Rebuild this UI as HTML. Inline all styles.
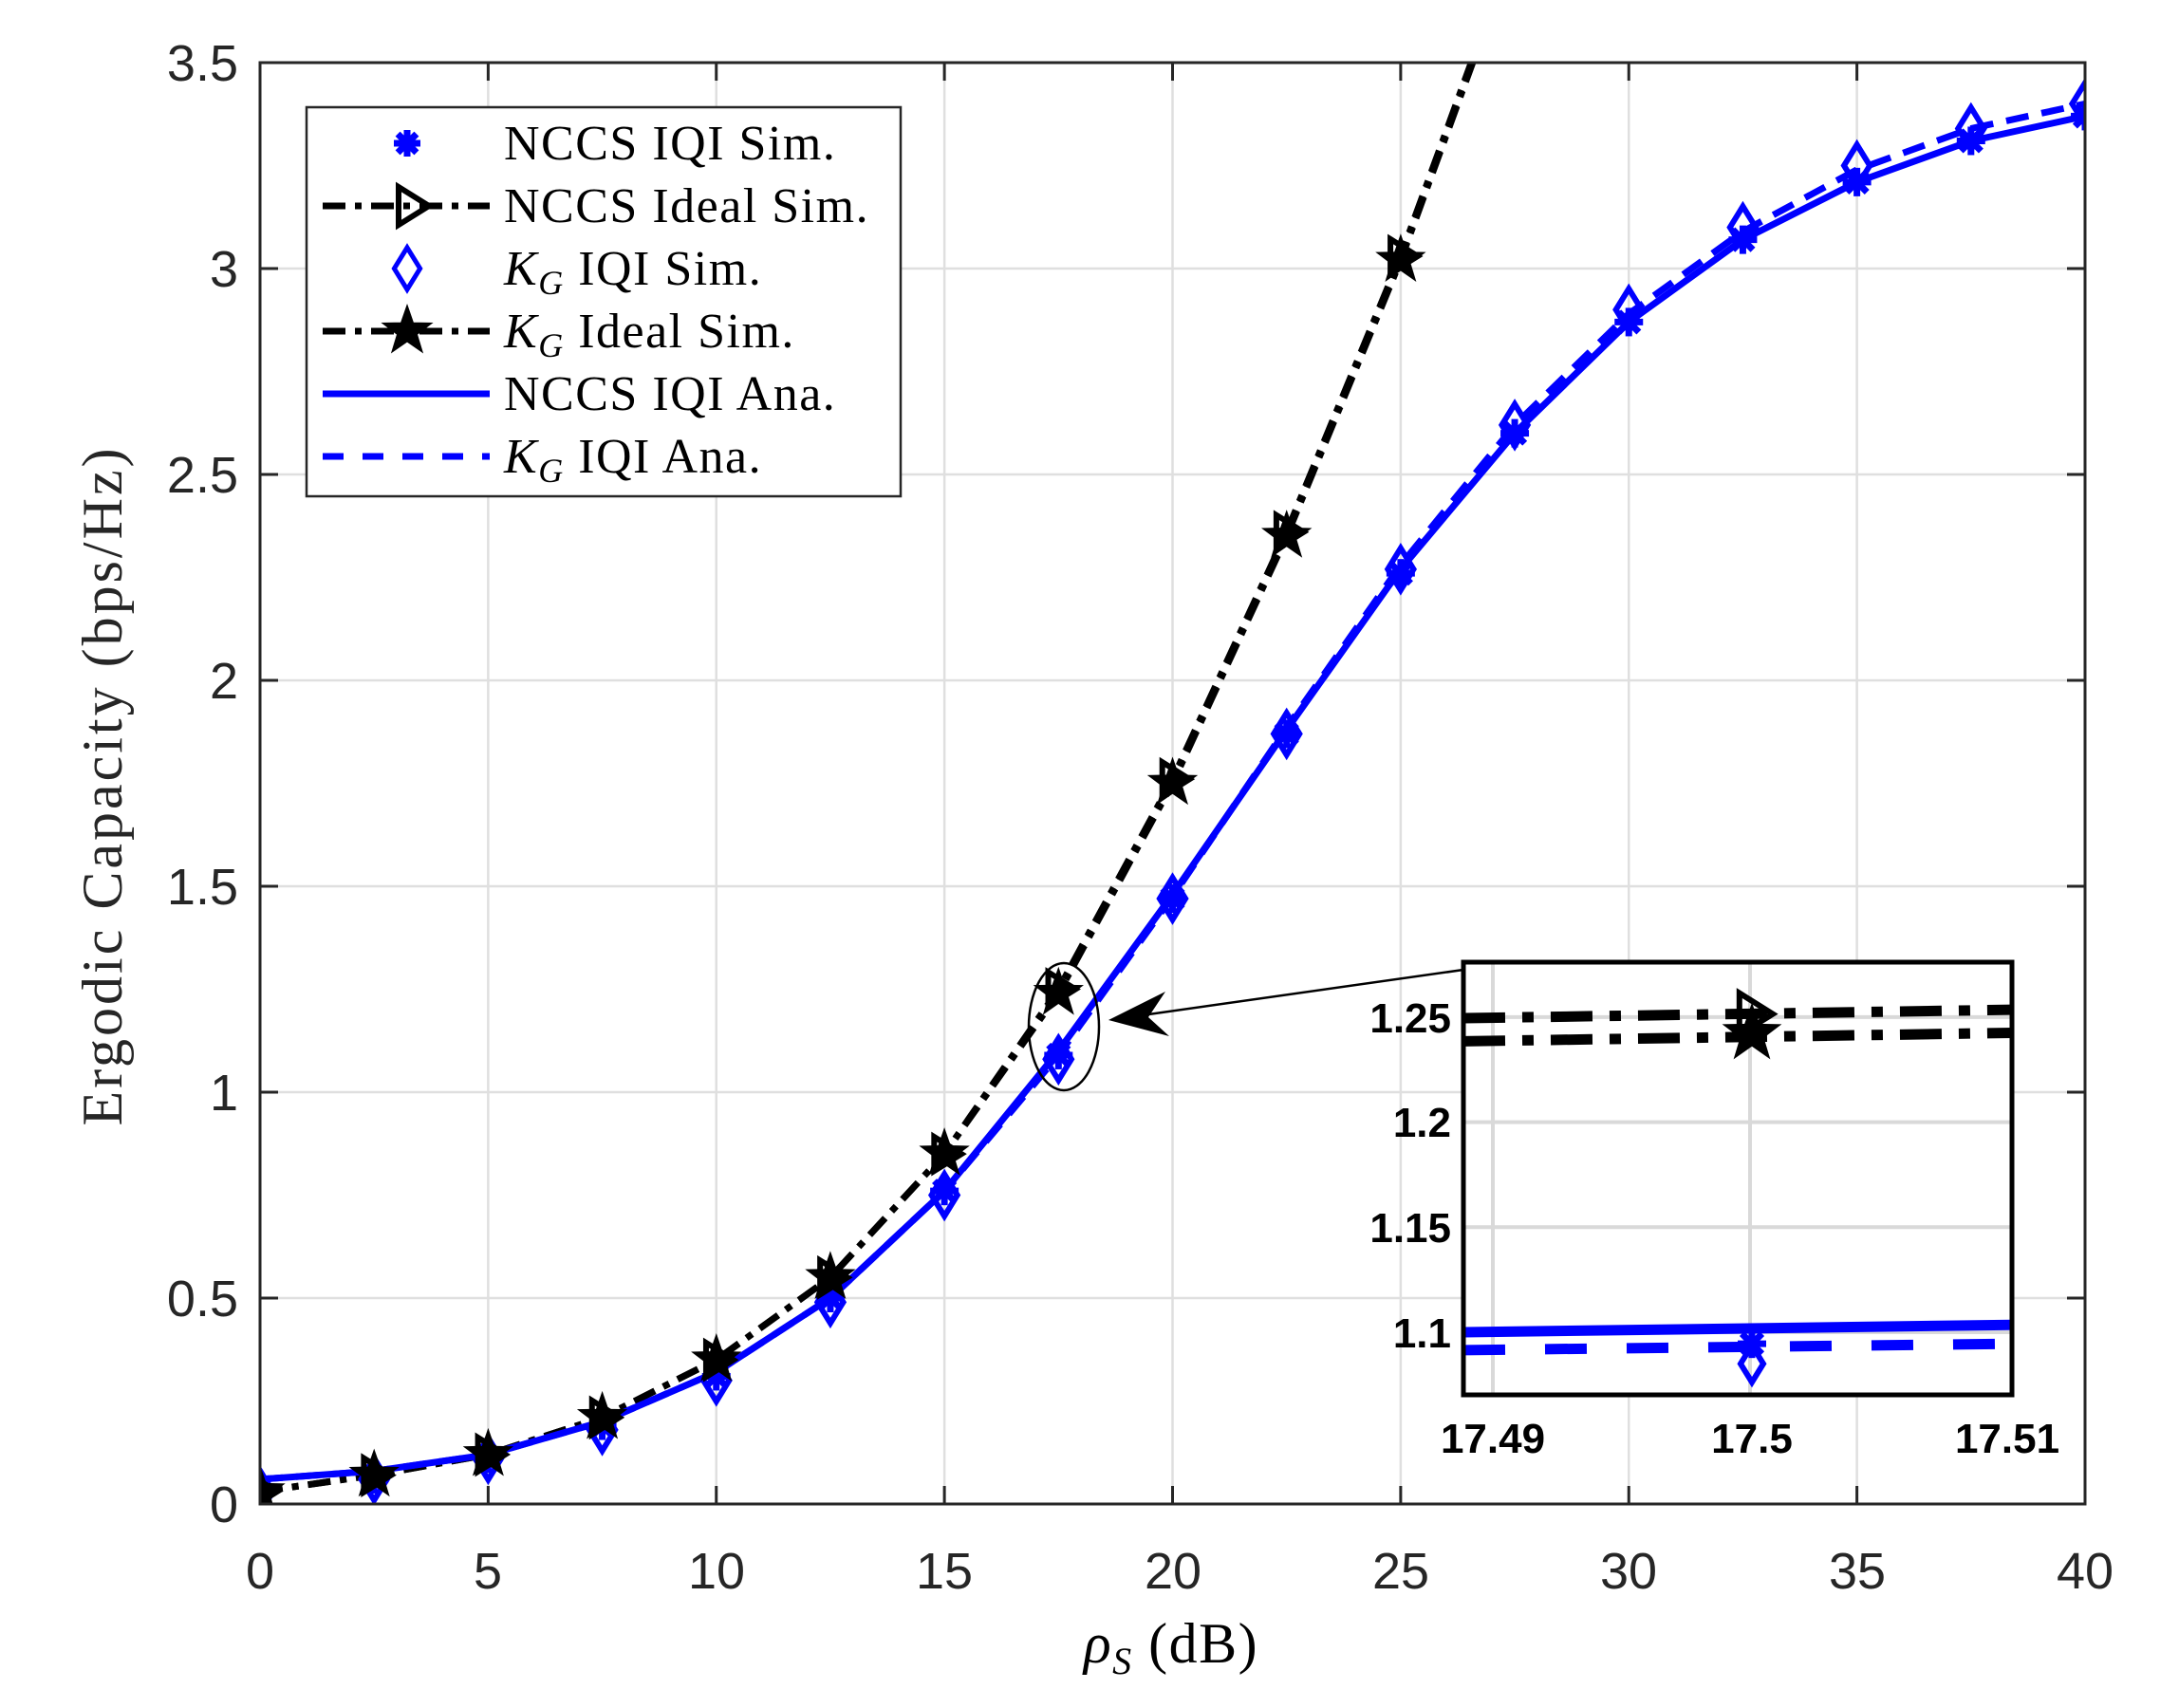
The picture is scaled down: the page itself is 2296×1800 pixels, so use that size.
<!DOCTYPE html>
<html><head><meta charset="utf-8">
<style>
html,body{margin:0;padding:0;background:#fff;}
svg{display:block;}
.tk{font-family:"Liberation Sans",sans-serif;font-size:54px;fill:#262626;}
.lg{font-family:"Liberation Serif",serif;font-size:52px;fill:#000;letter-spacing:1.5px;}
.in{font-family:"Liberation Sans",sans-serif;font-size:44px;font-weight:bold;fill:#000;}
</style></head>
<body>
<svg id="s" width="2296" height="1800" viewBox="0 0 2296 1800" xmlns="http://www.w3.org/2000/svg">
<rect width="2296" height="1800" fill="#fff"/>
<g id="grid" stroke="#dfdfdf" stroke-width="2.5"></g>
<g id="main"></g>
<rect x="274" y="66" width="1923" height="1519" fill="none" stroke="#262626" stroke-width="3"/>
<g id="ticks" stroke="#262626" stroke-width="3"></g>
<g class="tk" text-anchor="middle">
<text x="274" y="1674">0</text><text x="514" y="1674">5</text><text x="755" y="1674">10</text>
<text x="995" y="1674">15</text><text x="1236" y="1674">20</text><text x="1476" y="1674">25</text>
<text x="1716" y="1674">30</text><text x="1957" y="1674">35</text><text x="2197" y="1674">40</text>
</g>
<g class="tk" text-anchor="end">
<text x="251" y="1604">0</text><text x="251" y="1387">0.5</text><text x="251" y="1170">1</text>
<text x="251" y="953">1.5</text><text x="251" y="736">2</text><text x="251" y="519">2.5</text>
<text x="251" y="302">3</text><text x="251" y="85">3.5</text>
</g>
<text x="1234" y="1752" text-anchor="middle" class="lg" style="font-size:60px"><tspan font-style="italic">ρ</tspan><tspan font-style="italic" font-size="40" dy="12">S</tspan><tspan dy="-12"> (dB)</tspan></text>
<text transform="translate(128,828) rotate(-90)" text-anchor="middle" class="lg" style="font-size:60px;fill:#262626;letter-spacing:3px">Ergodic Capacity (bps/Hz)</text>
<rect x="323" y="113" width="626" height="410" fill="#fff" stroke="#262626" stroke-width="2.5"/>
<g id="leg"></g>
<g class="lg">
<text x="531" y="168">NCCS IQI Sim.</text>
<text x="531" y="234">NCCS Ideal Sim.</text>
<text x="531" y="300"><tspan font-style="italic">K</tspan><tspan font-style="italic" font-size="36" dy="10">G</tspan><tspan dy="-10"> IQI Sim.</tspan></text>
<text x="531" y="366"><tspan font-style="italic">K</tspan><tspan font-style="italic" font-size="36" dy="10">G</tspan><tspan dy="-10"> Ideal Sim.</tspan></text>
<text x="531" y="432">NCCS IQI Ana.</text>
<text x="531" y="498"><tspan font-style="italic">K</tspan><tspan font-style="italic" font-size="36" dy="10">G</tspan><tspan dy="-10"> IQI Ana.</tspan></text>
</g>
<ellipse cx="1121" cy="1082" rx="37" ry="67" fill="none" stroke="#000" stroke-width="2.5"/>
<line x1="1542" y1="1022" x2="1175" y2="1074" stroke="#000" stroke-width="2.5"/>
<path d="M1168,1075 L1228,1045 L1210,1072 L1232,1092 Z" fill="#000"/>
<rect x="1542" y="1014" width="578" height="456" fill="#fff"/>
<g id="ingrid" stroke="#d9d9d9" stroke-width="4"></g>
<g id="inset"></g>
<rect x="1542" y="1014" width="578" height="456" fill="none" stroke="#000" stroke-width="5"/>
<g class="in" text-anchor="end">
<text x="1529" y="1088">1.25</text><text x="1529" y="1198">1.2</text>
<text x="1529" y="1309">1.15</text><text x="1529" y="1420">1.1</text>
</g>
<g class="in" text-anchor="middle">
<text x="1573" y="1531">17.49</text><text x="1846" y="1531">17.5</text><text x="2115" y="1531">17.51</text>
</g>
</svg>
<script>
var NS="http://www.w3.org/2000/svg";
function el(p,t,a){var e=document.createElementNS(NS,t);for(var k in a)e.setAttribute(k,a[k]);document.getElementById(p).appendChild(e);return e;}
function X(x){return 274+x*48.075;}
function Y(y){return 1585-y*434;}
for(var i=1;i<8;i++){var x=X(i*5);el("grid","line",{x1:x,y1:66,x2:x,y2:1585});el("ticks","line",{x1:x,y1:1585,x2:x,y2:1566});el("ticks","line",{x1:x,y1:66,x2:x,y2:85});}
for(var j=1;j<7;j++){var y=Y(j*0.5);el("grid","line",{x1:274,y1:y,x2:2197,y2:y});el("ticks","line",{x1:274,y1:y,x2:293,y2:y});el("ticks","line",{x1:2197,y1:y,x2:2178,y2:y});}
var xs=[];for(var i=0;i<=16;i++)xs.push(i*2.5);
var bS=[0.06,0.08,0.12,0.2,0.32,0.5,0.76,1.1,1.48,1.88,2.27,2.6,2.87,3.07,3.21,3.31,3.37];
var bD=[0.06,0.08,0.12,0.2,0.32,0.5,0.76,1.09,1.475,1.885,2.28,2.62,2.89,3.09,3.24,3.34,3.4];
var kI=[0.03,0.07,0.12,0.21,0.35,0.55,0.85,1.24,1.75,2.35,3.02,3.78];
var nI=[0.03,0.07,0.12,0.21,0.35,0.55,0.85,1.25,1.76,2.36,3.03,3.79];
var dS=[0.03,0.06,0.11,0.18,0.3,0.49,0.75,1.08,1.47,1.87,2.27,2.62,2.9,3.1,3.25,3.34,3.4];
var aS=[0.04,0.06,0.11,0.19,0.31,0.5,0.76,1.09,1.47,1.87,2.26,2.6,2.87,3.07,3.21,3.31,3.37];
function pts(v,fx,fy){return v.map(function(y,i){return fx(xs[i])+","+fy(y);}).join(" ");}
function star(g,cx,cy,r,fill){var p=[];for(var k=0;k<10;k++){var rr=k%2?r*0.4:r;var a=-Math.PI/2+k*Math.PI/5;p.push((cx+rr*Math.cos(a)).toFixed(1)+","+(cy+rr*Math.sin(a)).toFixed(1));}el(g,"polygon",{points:p.join(" "),fill:fill,stroke:"#000","stroke-width":2});}
function tri(g,cx,cy,r){el(g,"polygon",{points:(cx-r*0.6)+","+(cy-r)+" "+(cx+r)+","+cy+" "+(cx-r*0.6)+","+(cy+r),fill:"none",stroke:"#000","stroke-width":6});}
function dia(g,cx,cy,r,sw){el(g,"polygon",{points:cx+","+(cy-r*1.3)+" "+(cx+r*0.8)+","+cy+" "+cx+","+(cy+r*1.3)+" "+(cx-r*0.8)+","+cy,fill:"none",stroke:"#0000ff","stroke-width":sw});}
function ast(g,cx,cy,r){for(var k=0;k<4;k++){var a=k*Math.PI/4;el(g,"line",{x1:cx-r*Math.cos(a),y1:cy-r*Math.sin(a),x2:cx+r*Math.cos(a),y2:cy+r*Math.sin(a),stroke:"#0000ff","stroke-width":7});}}
var defs=el("main","clipPath",{id:"cp"});var cr=document.createElementNS(NS,"rect");cr.setAttribute("x",274);cr.setAttribute("y",66);cr.setAttribute("width",1923);cr.setAttribute("height",1519);defs.appendChild(cr);
var gm=el("main","g",{"clip-path":"url(#cp)",id:"mg"});
var xi=xs.slice(0,12);
el("mg","polyline",{points:nI.map(function(y,i){return X(xi[i])+","+Y(y);}).join(" "),fill:"none",stroke:"#000","stroke-width":7,"stroke-dasharray":"24,10,7,10"});
el("mg","polyline",{points:kI.map(function(y,i){return X(xi[i])+","+Y(y);}).join(" "),fill:"none",stroke:"#000","stroke-width":7,"stroke-dasharray":"24,10,7,10"});
el("mg","polyline",{points:pts(bS,X,Y),fill:"none",stroke:"#0000ff","stroke-width":7});
el("mg","polyline",{points:pts(bD,X,Y),fill:"none",stroke:"#0000ff","stroke-width":7,"stroke-dasharray":"24,14"});
for(var i=0;i<=16;i++){dia("mg",X(xs[i]),Y(dS[i]),17,6);ast("mg",X(xs[i]),Y(aS[i]),15);}
for(var i=0;i<11;i++){tri("mg",X(xs[i]),Y(nI[i]),18);star("mg",X(xs[i]),Y(kI[i]),25,"#000");}
el("leg","line",{x1:340,y1:217,x2:516,y2:217,stroke:"#000","stroke-width":7,"stroke-dasharray":"24,10,7,10"});
el("leg","line",{x1:340,y1:349,x2:516,y2:349,stroke:"#000","stroke-width":7,"stroke-dasharray":"24,10,7,10"});
el("leg","line",{x1:340,y1:415,x2:516,y2:415,stroke:"#0000ff","stroke-width":7});
el("leg","line",{x1:340,y1:481,x2:516,y2:481,stroke:"#0000ff","stroke-width":7,"stroke-dasharray":"22,20"});
ast("leg",429,151,14);tri("leg",432,217,20);dia("leg",429,283,17,5);star("leg",429,349,26,"#000");
function IX(x){return 1573+(x-17.49)*27100;}
function IY(y){return 1404-(y-1.1)*2214;}
[17.49,17.5].forEach(function(x){el("ingrid","line",{x1:IX(x),y1:1014,x2:IX(x),y2:1470});});
[1.25,1.2,1.15,1.1].forEach(function(y){el("ingrid","line",{x1:1542,y1:IY(y),x2:2120,y2:IY(y)});});
el("inset","line",{x1:1542,y1:IY(1.2495),x2:2120,y2:IY(1.2535),stroke:"#000","stroke-width":11,"stroke-dasharray":"44,18,12,18"});
el("inset","line",{x1:1542,y1:IY(1.2385),x2:2120,y2:IY(1.2425),stroke:"#000","stroke-width":11,"stroke-dasharray":"44,18,12,18"});
el("inset","line",{x1:1542,y1:IY(1.1),x2:2120,y2:IY(1.1035),stroke:"#0000ff","stroke-width":11});
el("inset","line",{x1:1542,y1:IY(1.0915),x2:2120,y2:IY(1.0945),stroke:"#0000ff","stroke-width":11,"stroke-dasharray":"44,42"});
tri("inset",1846,IY(1.2515),22);star("inset",1846,IY(1.242),30,"#000");
ast("inset",1846,IY(1.0945),15);dia("inset",1846,IY(1.085),15,6);
</script>
</body></html>
